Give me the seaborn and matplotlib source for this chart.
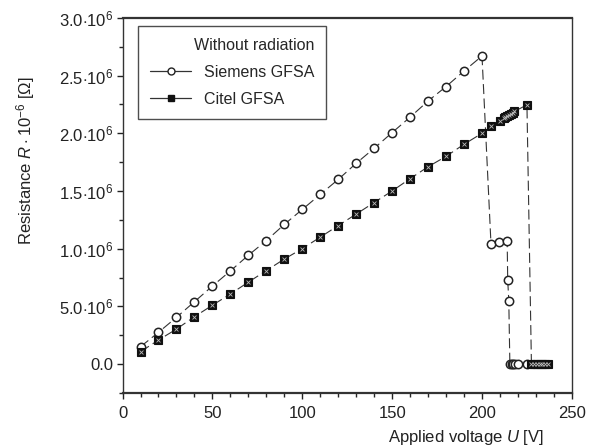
import matplotlib
matplotlib.use("Agg")
import matplotlib.pyplot as plt
from matplotlib.lines import Line2D
from matplotlib.ticker import MultipleLocator
import seaborn as sns
import pandas as pd

# Siemens GFSA: applied voltage [V] and resistance [x 10^6 Ohm]
siemens_u = [10, 20, 30, 40, 50, 60, 70, 80, 90, 100, 110, 120, 130, 140, 150,
             160, 170, 180, 190, 200, 205, 209.7, 214, 214.3, 214.9,
             215.5, 216.5, 217.5, 218.5, 220, 225]
siemens_r = [0.15, 0.275, 0.405, 0.54, 0.676, 0.807, 0.943, 1.07, 1.21, 1.34,
             1.47, 1.60, 1.74, 1.87, 2.006, 2.14, 2.28, 2.405, 2.54, 2.67,
             1.04, 1.06, 1.07, 0.73, 0.55,
             0.0, 0.0, 0.0, 0.0, 0.0, 0.0]

# Citel GFSA
citel_u = [10, 20, 30, 40, 50, 60, 70, 80, 90, 100, 110, 120, 130, 140, 150,
           160, 170, 180, 190, 200, 205, 210, 212, 213, 214, 215, 216, 217, 218,
           225, 227.5, 229, 230.5, 232, 233.5, 235, 236.5]
citel_r = [0.107, 0.208, 0.303, 0.41, 0.51, 0.607, 0.71, 0.81, 0.91, 1.0,
           1.10, 1.20, 1.30, 1.40, 1.50, 1.607, 1.71, 1.80, 1.905, 2.0, 2.06,
           2.11, 2.13, 2.14, 2.15, 2.16, 2.17, 2.18, 2.19,
           2.246, 0.0, 0.0, 0.0, 0.0, 0.0, 0.0, 0.0]

y_ticks = [0.0, 0.5, 1.0, 1.5, 2.0, 2.5, 3.0]
y_ticklabels = ["0.0", r"5.0$\cdot$10$^6$", r"1.0$\cdot$10$^6$", r"1.5$\cdot$10$^6$",
                r"2.0$\cdot$10$^6$", r"2.5$\cdot$10$^6$", r"3.0$\cdot$10$^6$"]

sns.set_style("ticks")
plt.rcParams['font.family'] = ['Liberation Sans', 'DejaVu Sans']
plt.rcParams['mathtext.fontset'] = 'custom'
plt.rcParams['mathtext.rm'] = 'Liberation Sans'
plt.rcParams['mathtext.it'] = 'Liberation Sans:italic'

fig = plt.figure(figsize=(5.92, 4.48), dpi=100)
ax = fig.add_axes([0.207, 0.123, 0.759, 0.837])

df_s = pd.DataFrame({"U": siemens_u, "R": siemens_r})
df_c = pd.DataFrame({"U": citel_u, "R": citel_r})

dash = (0, (9, 4))
sns.lineplot(data=df_s, x="U", y="R", ax=ax, sort=False, estimator=None,
             color="#333333", linewidth=0.8, linestyle=dash,
             marker="o", markersize=6, markerfacecolor="white",
             markeredgecolor="#222222", markeredgewidth=1.1)
sns.lineplot(data=df_c, x="U", y="R", ax=ax, sort=False, estimator=None,
             color="#333333", linewidth=0.8, linestyle=dash,
             marker="s", markersize=6, markerfacecolor="#111111",
             markeredgecolor="#111111", markeredgewidth=0.8)
sns.scatterplot(data=df_c, x="U", y="R", ax=ax, marker="x", s=8,
                color="#bbbbbb", linewidth=0.6, zorder=5)

ax.set_xlim(0, 250)
ax.set_ylim(-0.25, 3.0)
ax.xaxis.set_major_locator(MultipleLocator(50))
ax.xaxis.set_minor_locator(MultipleLocator(10))
ax.set_yticks(y_ticks)
ax.set_yticklabels(y_ticklabels)
ax.yaxis.set_minor_locator(MultipleLocator(0.25))
ax.tick_params(which="major", direction="out", length=4.5, width=1.0,
               labelsize=12, colors="#222222")
ax.tick_params(which="minor", direction="out", length=3, width=1.0)
ax.tick_params(axis="x", which="major", pad=5)
ax.tick_params(axis="y", which="major", pad=2)
ax.tick_params(top=False, right=False, which="both")

for side in ["top", "bottom"]:
    ax.spines[side].set_linewidth(1.6)
for side in ["left", "right"]:
    ax.spines[side].set_linewidth(1.0)
for s in ax.spines.values():
    s.set_color("#333333")

ax.set_xlabel(r"Applied voltage $U$ [V]", fontsize=12, color="#222222")
ax.set_ylabel(r"Resistance $R\cdot$10$^{-6}$ [$\Omega$]", fontsize=12, color="#222222")
ax.xaxis.set_label_coords(0.765, -0.093)
ax.yaxis.set_label_coords(-0.19, 0.62)

handles = [
    Line2D([], [], color="#333333", linewidth=0.9, marker="o", markersize=5,
           markerfacecolor="white", markeredgecolor="#222222"),
    Line2D([], [], color="#333333", linewidth=0.9, marker="s", markersize=5,
           markerfacecolor="#111111", markeredgecolor="#111111"),
]
leg = ax.legend(handles, ["Siemens GFSA", "Citel GFSA"], title="Without radiation",
                loc="upper left", bbox_to_anchor=(0.034, 0.979), borderaxespad=0,
                fontsize=11.5, title_fontsize=11.5, frameon=True, fancybox=False,
                edgecolor="#222222", handlelength=2.6, handletextpad=0.8,
                borderpad=0.75, labelspacing=0.75, alignment="right")
leg.get_frame().set_linewidth(1.0)

fig.savefig("out.png", dpi=100)
